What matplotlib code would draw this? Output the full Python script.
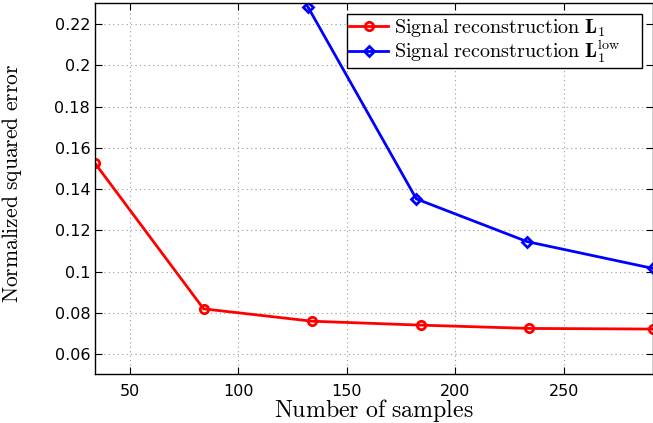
import matplotlib
matplotlib.use('Agg')
import matplotlib.pyplot as plt

plt.rcParams['mathtext.fontset'] = 'cm'

# data
samples = [34, 84, 134, 184, 234, 291]
err_l1 = [0.1525, 0.0819, 0.0759, 0.0740, 0.0724, 0.0721]
samples_low = [132, 182, 233, 291]
err_l1_low = [0.2284, 0.1352, 0.1145, 0.1015]

xticks = [50, 100, 150, 200, 250]
yticks = [0.06, 0.08, 0.1, 0.12, 0.14, 0.16, 0.18, 0.2, 0.22]
ytick_labels = ['0.06', '0.08', '0.1', '0.12', '0.14', '0.16', '0.18', '0.2', '0.22']

fig = plt.figure(figsize=(6.53, 4.23), dpi=100)
ax = fig.add_axes([0.1455, 0.1158, 0.8545, 0.8762])

ax.plot(samples, err_l1, color='red', lw=2.0, marker='o', ms=6, mew=2.0,
        mfc='none', label=r'$\mathrm{Signal\ reconstruction}\ \mathbf{L}_1$')
ax.plot(samples_low, err_l1_low, color='blue', lw=2.0, marker='D', ms=5.5, mew=2.0,
        mfc='none', label=r'$\mathrm{Signal\ reconstruction}\ \mathbf{L}_1^{\mathrm{low}}$')

ax.set_xlim(34, 291)
ax.set_ylim(0.0503, 0.2300)
ax.set_xticks(xticks)
ax.set_yticks(yticks)
ax.set_yticklabels(ytick_labels)
ax.tick_params(direction='in', top=True, right=True, labelsize=11.5, length=5, width=0.8)
ax.tick_params(axis='x', pad=7)

ax.grid(True, ls=(0, (1, 3)), color='#999999', lw=0.8)
for s in ax.spines.values():
    s.set_linewidth(1.0)

ax.set_xlabel(r'$\mathrm{Number\ of\ samples}$', fontsize=17.2)
ax.xaxis.set_label_coords(0.5, -0.063)
ax.set_ylabel(r'$\mathrm{Normalized\ squared\ error}$', fontsize=15.5)
ax.yaxis.set_label_coords(-0.128, 0.513)

leg = ax.legend(loc='upper right', bbox_to_anchor=(0.4516, 0.5, 0.5287, 0.4704),
                mode='expand', fontsize=14.5, fancybox=False, framealpha=1,
                edgecolor='black', borderaxespad=0, handlelength=1.9,
                borderpad=0.12, labelspacing=0.0, handletextpad=0.3)
leg.get_frame().set_linewidth(1.0)

fig.savefig('out.png', dpi=100)
